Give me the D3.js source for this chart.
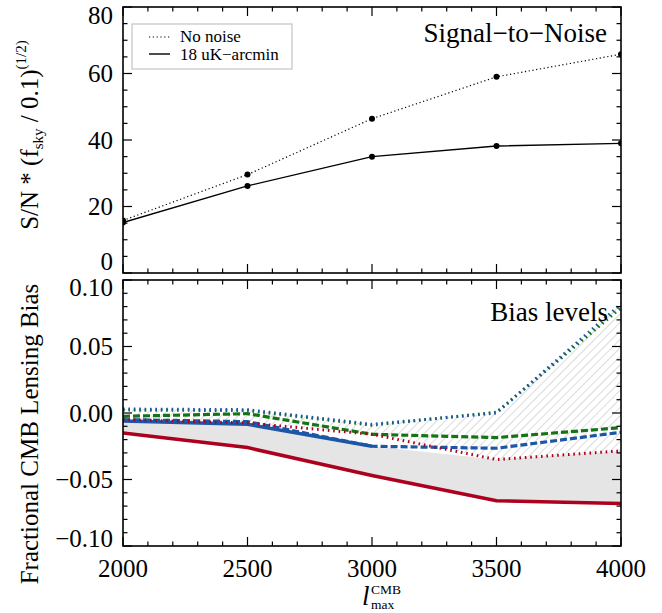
<!DOCTYPE html>
<html><head><meta charset="utf-8">
<script src="https://cdn.jsdelivr.net/npm/d3@7"></script>
<style>body{margin:0;background:#fff}svg{display:block}</style>
</head><body>
<svg id="c" width="662" height="613" font-family="'Liberation Serif', 'DejaVu Serif', serif"></svg>
<script>
// ---- data ----
const lmax = [2000, 2500, 3000, 3500, 4000];
const snNoNoise = [15.8, 29.6, 46.4, 59.0, 65.8];
const snNoise18 = [15.2, 26.2, 35.0, 38.2, 39.0];
const redSolid   = [-0.015, -0.026, -0.047, -0.066, -0.068];
const redDotted  = [-0.005, -0.0075, -0.016, -0.035, -0.0285];
const blueSolid  = [-0.006, -0.0085, -0.025, null, null];
const blueDashed = [-0.005, -0.0065, -0.025, -0.0265, -0.0145];
const greenDashed= [-0.0025, -0.0005, -0.016, -0.0185, -0.011];
const blueDotted = [0.003, 0.0025, -0.0085, 0.000, 0.082];
const greenDotted= [0.0022, 0.0018, -0.0092, 0.0006, 0.079];
const topTicks = [0, 20, 40, 60, 80];
const botTicks = [-0.10, -0.05, 0.00, 0.05, 0.10];
const xTicks = [2000, 2500, 3000, 3500, 4000];

const FONT = "'Liberation Serif', 'DejaVu Serif', serif";
const svg = d3.select("#c");
const L = 123, R = 621;
const x = d3.scaleLinear().domain([2000, 4000]).range([L, R]);
const yT = d3.scaleLinear().domain([0, 80]).range([273, 7]);
const yB = d3.scaleLinear().domain([-0.1, 0.1]).range([546, 280]);

const defs = svg.append("defs");
const pat = defs.append("pattern").attr("id", "hatch").attr("patternUnits", "userSpaceOnUse")
  .attr("width", 6).attr("height", 6).attr("patternTransform", "rotate(45)");
pat.append("line").attr("x1", 0).attr("y1", 0).attr("x2", 0).attr("y2", 6)
  .attr("stroke", "#bdbdbd").attr("stroke-width", 1.1);
defs.append("clipPath").attr("id", "clipT").append("rect").attr("x", L).attr("y", yT(80)).attr("width", R - L).attr("height", yT(0) - yT(80));
defs.append("clipPath").attr("id", "clipB").append("rect").attr("x", L).attr("y", yB(0.1)).attr("width", R - L).attr("height", yB(-0.1) - yB(0.1));

// ---- top panel ----
const gT = svg.append("g").attr("clip-path", "url(#clipT)");
const lineT = d3.line().x((d, i) => x(lmax[i])).y(d => yT(d));
gT.append("path").attr("d", lineT(snNoNoise)).attr("fill", "none").attr("stroke", "#000")
  .attr("stroke-width", 1.2).attr("stroke-dasharray", "1.2,2.6");
gT.append("path").attr("d", lineT(snNoise18)).attr("fill", "none").attr("stroke", "#000").attr("stroke-width", 1.4);
[snNoNoise, snNoise18].forEach(s => gT.selectAll(null).data(s).enter().append("circle")
  .attr("cx", (d, i) => x(lmax[i])).attr("cy", d => yT(d)).attr("r", 3).attr("fill", "#000"));

// ---- bottom panel ----
const gB = svg.append("g").attr("clip-path", "url(#clipB)");
const idx = d3.range(lmax.length);
const hatchArea = d3.area().x(i => x(lmax[i])).y0(i => yB(redDotted[i])).y1(i => yB(blueDotted[i]));
gB.append("path").attr("d", hatchArea(idx)).attr("fill", "url(#hatch)");
const grayUpper = idx.map(i => Math.min(redDotted[i], blueSolid[i] != null ? blueSolid[i] : blueDashed[i]));
const grayArea = d3.area().x(i => x(lmax[i])).y0(i => yB(redSolid[i])).y1(i => yB(grayUpper[i]));
gB.append("path").attr("d", grayArea(idx)).attr("fill", "#e5e5e5");

const lineB = d3.line().defined(d => d != null).x((d, i) => x(lmax[i])).y(d => yB(d));
const RED = "#ad001e", BLUE = "#1c56a6", GREEN = "#137413";
function draw(s, c, dash, w) {
  const p = gB.append("path").attr("d", lineB(s)).attr("fill", "none").attr("stroke", c).attr("stroke-width", w || 3.2);
  if (dash) p.attr("stroke-dasharray", dash);
}
draw(redSolid, RED, null, 3.6);
draw(blueSolid, BLUE, null, 3.4);
draw(blueDashed, BLUE, "7,3");
draw(greenDashed, GREEN, "7,3");
draw(redDotted, RED, "1.6,3.8", 3);
draw(greenDotted, GREEN, "1.6,3.8", 3);
draw(blueDotted, BLUE, "1.6,3.8", 3);

// ---- frames & ticks ----
function frame(y, yTicksMajor, minorStep, yDom) {
  const top = y.range()[1], bot = y.range()[0];
  svg.append("rect").attr("x", L).attr("y", top).attr("width", R - L).attr("height", bot - top)
    .attr("fill", "none").attr("stroke", "#000").attr("stroke-width", 1.6);
  const g = svg.append("g").attr("stroke", "#000").attr("stroke-width", 1.2);
  for (let v = 2000; v <= 4000; v += 100) {
    const maj = v % 500 === 0, len = maj ? 9 : 4.5;
    g.append("line").attr("x1", x(v)).attr("x2", x(v)).attr("y1", bot).attr("y2", bot - len);
    g.append("line").attr("x1", x(v)).attr("x2", x(v)).attr("y1", top).attr("y2", top + len);
  }
  const n = Math.round((yDom[1] - yDom[0]) / minorStep);
  for (let k = 0; k <= n; k++) {
    const v = yDom[0] + k * minorStep;
    const maj = yTicksMajor.some(t => Math.abs(t - v) < minorStep / 10), len = maj ? 9 : 4.5;
    g.append("line").attr("x1", L).attr("x2", L + len).attr("y1", y(v)).attr("y2", y(v));
    g.append("line").attr("x1", R).attr("x2", R - len).attr("y1", y(v)).attr("y2", y(v));
  }
}
frame(yT, topTicks, 5, [0, 80]);
frame(yB, botTicks, 0.01, [-0.1, 0.1]);

function txt(xx, yy, size, s) {
  return svg.append("text").attr("x", xx).attr("y", yy).attr("font-size", size)
    .attr("font-family", FONT).attr("fill", "#000").text(s);
}
// tick labels
const fmtB = d => d3.format(".2f")(d).replace("-", "\u2212");
topTicks.forEach(t => {
  let yy = yT(t); if (t === 0) yy -= 12; if (t === 80) yy += 8;
  txt(113, yy, 25, String(t)).attr("dy", "0.35em").attr("text-anchor", "end");
});
botTicks.forEach(t => {
  let yy = yB(t); if (Math.abs(t - 0.1) < 1e-9) yy += 7; if (Math.abs(t + 0.1) < 1e-9) yy -= 8;
  txt(113, yy, 25, fmtB(t)).attr("dy", "0.35em").attr("text-anchor", "end");
});
xTicks.forEach(t => txt(x(t), 577, 25, String(t)).attr("text-anchor", "middle"));

// x title
txt(362, 605, 27, "l").attr("font-style", "italic");
txt(371, 594, 13.5, "CMB");
txt(371, 609, 13.5, "max");

// y titles
const yt1 = svg.append("text").attr("transform", "translate(38,135) rotate(-90)").attr("text-anchor", "middle")
  .attr("font-size", 25).attr("font-family", FONT);
yt1.append("tspan").text("S/N * (f");
yt1.append("tspan").attr("font-size", 15).attr("dy", 5).text("sky");
yt1.append("tspan").attr("dy", -5).text(" / 0.1)");
yt1.append("tspan").attr("font-size", 15).attr("dy", -12).text("(1/2)");
svg.append("text").attr("transform", "translate(38,434) rotate(-90)").attr("text-anchor", "middle")
  .attr("font-size", 25).attr("font-family", FONT).text("Fractional CMB Lensing Bias");

// panel labels
txt(607, 42, 27, "Signal\u2212to\u2212Noise").attr("text-anchor", "end");
txt(608, 321, 27, "Bias levels").attr("text-anchor", "end");

// legend
svg.append("rect").attr("x", 132).attr("y", 24).attr("width", 160).attr("height", 45)
  .attr("fill", "#fff").attr("stroke", "#c4c4c4").attr("stroke-width", 1.2);
svg.append("line").attr("x1", 149).attr("x2", 170).attr("y1", 37).attr("y2", 37).attr("stroke", "#000")
  .attr("stroke-width", 1.2).attr("stroke-dasharray", "1.2,2.6");
svg.append("line").attr("x1", 149).attr("x2", 170).attr("y1", 54).attr("y2", 54).attr("stroke", "#000").attr("stroke-width", 1.4);
txt(180, 42, 17, "No noise");
txt(180, 60, 17, "18 uK\u2212arcmin");
</script>
</body></html>
